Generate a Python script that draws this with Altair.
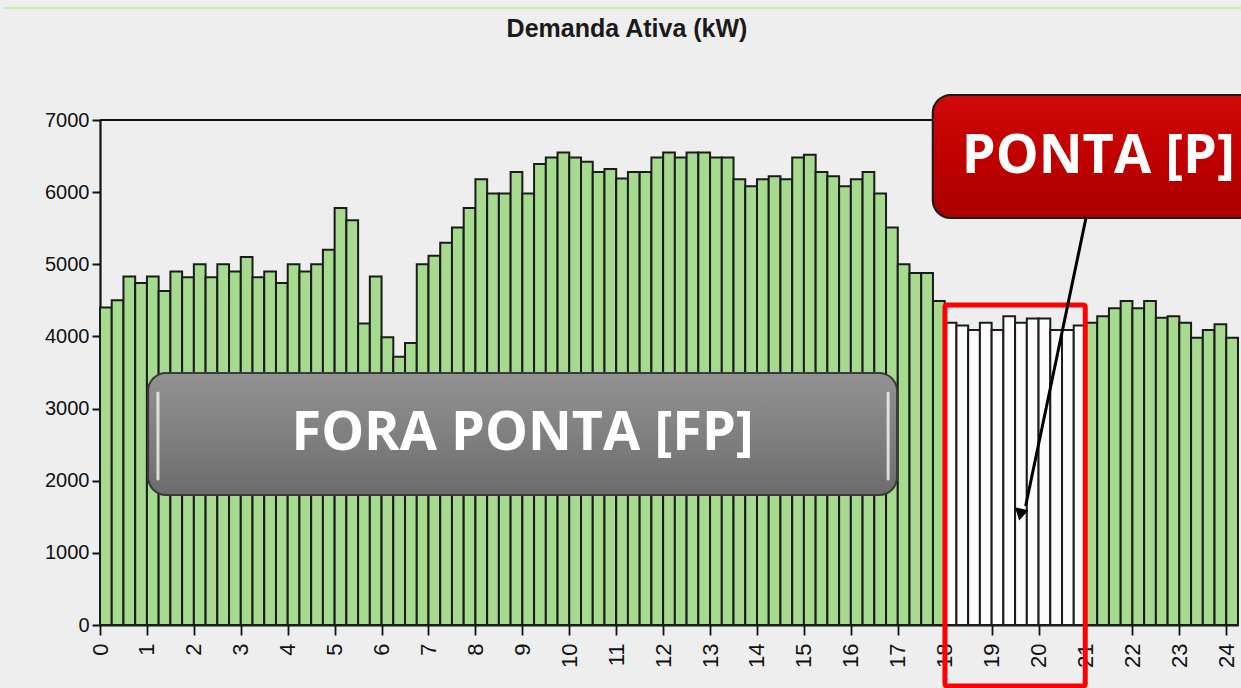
import altair as alt
import pandas as pd

# ---------------- data ----------------
# active demand, kW, one value every 15 minutes from 00:00 to 24:00 (97 bars)
demand_kw = [
    4400, 4500, 4830, 4740,   # 0h
    4830, 4630, 4900, 4820,   # 1h
    5000, 4820, 5000, 4900,   # 2h
    5100, 4820, 4900, 4740,   # 3h
    5000, 4900, 5000, 5200,   # 4h
    5780, 5610, 4180, 4830,   # 5h
    3990, 3720, 3910, 5000,   # 6h
    5120, 5300, 5510, 5780,   # 7h
    6180, 5980, 5980, 6280,   # 8h
    5980, 6390, 6480, 6550,   # 9h
    6480, 6420, 6280, 6320,   # 10h
    6190, 6280, 6280, 6480,   # 11h
    6550, 6480, 6550, 6550,   # 12h
    6480, 6480, 6180, 6080,   # 13h
    6180, 6220, 6180, 6480,   # 14h
    6520, 6280, 6220, 6080,   # 15h
    6180, 6280, 5980, 5510,   # 16h
    5000, 4880, 4880, 4490,   # 17h
    4190, 4150, 4090, 4190,   # 18h  (ponta)
    4090, 4280, 4190, 4250,   # 19h  (ponta)
    4250, 4090, 4090, 4150,   # 20h  (ponta)
    4190, 4280, 4390, 4490,   # 21h
    4390, 4490, 4260, 4280,   # 22h
    4190, 3980, 4090, 4170,   # 23h
    3980,                     # 24h
]
hours = [i * 0.25 for i in range(len(demand_kw))]
peak_start, peak_end = 18, 21
period = ["P" if peak_start <= h < peak_end else "FP" for h in hours]
y_ticks = [0, 1000, 2000, 3000, 4000, 5000, 6000, 7000]

title_text = "Demanda Ativa (kW)"
fp_text = "FORA PONTA [FP]"
p_text = "PONTA [P]"

# annotation anchors, in data units (hours, kW)
fp_box = {"x": 0.90, "x2": 16.86, "y": 3493, "y2": 1802}
fp_label = {"x": 8.88, "y": 2650}
p_box = {"x": 17.62, "x2": 24.7, "y": 7346, "y2": 5641}
p_label = {"x": 18.24, "y": 6487}
peak_frame = {"x": 17.88, "x2": 20.87, "y": 4436, "y2": -845}
arrow_line = {"x": 20.885, "y": 5641, "x2": 19.60, "y2": 1650}
arrow_head = {"x": 19.49, "y": 1530}
highlights = [
    {"x": 1.11, "y": 3215, "y2": 2023},
    {"x": 16.67, "y": 3215, "y2": 2023},
    {"x": 17.92, "y": 7111, "y2": 5891},
]

# ---------------- chart ----------------
df = pd.DataFrame({"hora": hours, "kw": demand_kw, "periodo": period})

X_DOMAIN = [-0.125, 24.125]
tick_bounds = [i * 0.25 - 0.125 for i in range(len(demand_kw) + 1)]

x_scale = alt.Scale(domain=X_DOMAIN, nice=False, zero=False)
y_scale = alt.Scale(domain=[0, 7000], nice=False)

SANS = "Liberation Sans, Arial, sans-serif"
NARROW = "Liberation Sans Narrow, Arial Narrow, Liberation Sans, sans-serif"

x_axis = alt.Axis(
    values=tick_bounds,
    labelExpr="(datum.value + 0.125) % 1 == 0 ? format(datum.value + 0.125, 'd') : ''",
    labelAngle=270,
    labelFont=SANS,
    labelFontSize=22,
    labelColor="#111111",
    labelOverlap=False,
    labelBound=False,
    labelFlush=False,
    labelPadding=8,
    tickSize=10,
    tickWidth=1.8,
    tickColor="#111111",
    domainColor="#111111",
    domainWidth=2.2,
    grid=False,
    title=None,
)
y_axis = alt.Axis(
    values=y_ticks,
    format="d",
    labelFont=NARROW,
    labelFontSize=20,
    labelColor="#111111",
    labelPadding=3,
    tickSize=8,
    tickWidth=2,
    tickColor="#111111",
    domainColor="#111111",
    domainWidth=2.2,
    grid=False,
    title=None,
)

bars = (
    alt.Chart(df)
    .transform_calculate(x0="datum.hora - 0.125", x1="datum.hora + 0.125", base="0")
    .mark_bar(stroke="#1b1b1b", strokeWidth=2)
    .encode(
        x=alt.X("x0:Q", scale=x_scale, axis=x_axis, title=None),
        x2="x1:Q",
        y=alt.Y("kw:Q", scale=y_scale, axis=y_axis, title=None),
        y2="base:Q",
        color=alt.Color(
            "periodo:N",
            scale=alt.Scale(domain=["FP", "P"], range=["#a6da8e", "#fcfcfc"]),
            legend=None,
        ),
    )
)

top_border = (
    alt.Chart(pd.DataFrame({"a": [X_DOMAIN[0]], "b": [X_DOMAIN[1]], "v": [7000]}))
    .mark_rule(color="#111111", strokeWidth=2.2)
    .encode(x=alt.X("a:Q", title=None), x2="b:Q", y=alt.Y("v:Q", title=None))
)

top_deco = alt.Chart(pd.DataFrame({"k": [0]})).mark_rule(color="#bdeeaa", strokeWidth=2).encode(
    x=alt.value(-95), x2=alt.value(1141), y=alt.value(-112)
)


def box(d, fill, stroke):
    return (
        alt.Chart(pd.DataFrame([d]))
        .mark_rect(cornerRadius=18, stroke=stroke, strokeWidth=2, fill=fill)
        .encode(
            x=alt.X("x:Q", title=None), x2="x2:Q",
            y=alt.Y("y:Q", title=None), y2="y2:Q",
        )
    )


gray_fill = alt.Gradient(
    gradient="linear",
    stops=[
        alt.GradientStop(offset=0, color="#929292"),
        alt.GradientStop(offset=0.5, color="#808080"),
        alt.GradientStop(offset=1, color="#6c6c6c"),
    ],
    x1=0, x2=0, y1=0, y2=1,
)
red_fill = alt.Gradient(
    gradient="linear",
    stops=[
        alt.GradientStop(offset=0, color="#cf0a0a"),
        alt.GradientStop(offset=0.5, color="#c00000"),
        alt.GradientStop(offset=1, color="#a90000"),
    ],
    x1=0, x2=0, y1=0, y2=1,
)

fp_box_layer = box(fp_box, gray_fill, "#3a3a3a")
p_box_layer = box(p_box, red_fill, "#1a1a1a")


def label(d, text, align):
    return (
        alt.Chart(pd.DataFrame([{**d, "t": text}]))
        .mark_text(
            font="Open Sans", fontWeight="bold", fontSize=54, color="#ffffff",
            align=align, baseline="middle",
        )
        .encode(x=alt.X("x:Q", title=None), y=alt.Y("y:Q", title=None), text="t:N")
    )


fp_label_layer = label(fp_label, fp_text, "center")
p_label_layer = label(p_label, p_text, "left")

shine = (
    alt.Chart(pd.DataFrame(highlights))
    .mark_rule(color="#ffffff", strokeWidth=3, opacity=0.75, strokeCap="round")
    .encode(x=alt.X("x:Q", title=None), y=alt.Y("y:Q", title=None), y2="y2:Q")
)

peak_frame_layer = (
    alt.Chart(pd.DataFrame([peak_frame]))
    .mark_rect(fillOpacity=0, stroke="#ff0000", strokeWidth=5, cornerRadius=2)
    .encode(
        x=alt.X("x:Q", title=None), x2="x2:Q",
        y=alt.Y("y:Q", title=None), y2="y2:Q",
    )
)

arrow = (
    alt.Chart(pd.DataFrame([arrow_line]))
    .mark_rule(color="#000000", strokeWidth=3)
    .encode(
        x=alt.X("x:Q", title=None), x2="x2:Q",
        y=alt.Y("y:Q", title=None), y2="y2:Q",
    )
)
arrow_tip = (
    alt.Chart(pd.DataFrame([arrow_head]))
    .mark_point(shape="triangle-down", angle=12, size=190, filled=True, color="#000000", opacity=1)
    .encode(x=alt.X("x:Q", title=None), y=alt.Y("y:Q", title=None))
)

chart = (
    alt.layer(
        bars,
        top_border,
        top_deco,
        fp_box_layer,
        shine,
        fp_label_layer,
        peak_frame_layer,
        arrow,
        arrow_tip,
        p_box_layer,
        p_label_layer,
    )
    .properties(
        width=1138,
        height=505,
        title=alt.TitleParams(
            text=title_text,
            font=NARROW,
            fontSize=25,
            fontWeight="bold",
            color="#1a1a1a",
            anchor="middle",
            dx=-42,
            offset=-35,
        ),
        autosize=alt.AutoSizeParams(type="none"),
        padding={"left": 100, "top": 120, "right": 3, "bottom": 63},
        background="#eeeeee",
    )
    .configure_view(stroke=None)
)

chart.save("out.html", embed_options={"renderer": "svg", "actions": False})
